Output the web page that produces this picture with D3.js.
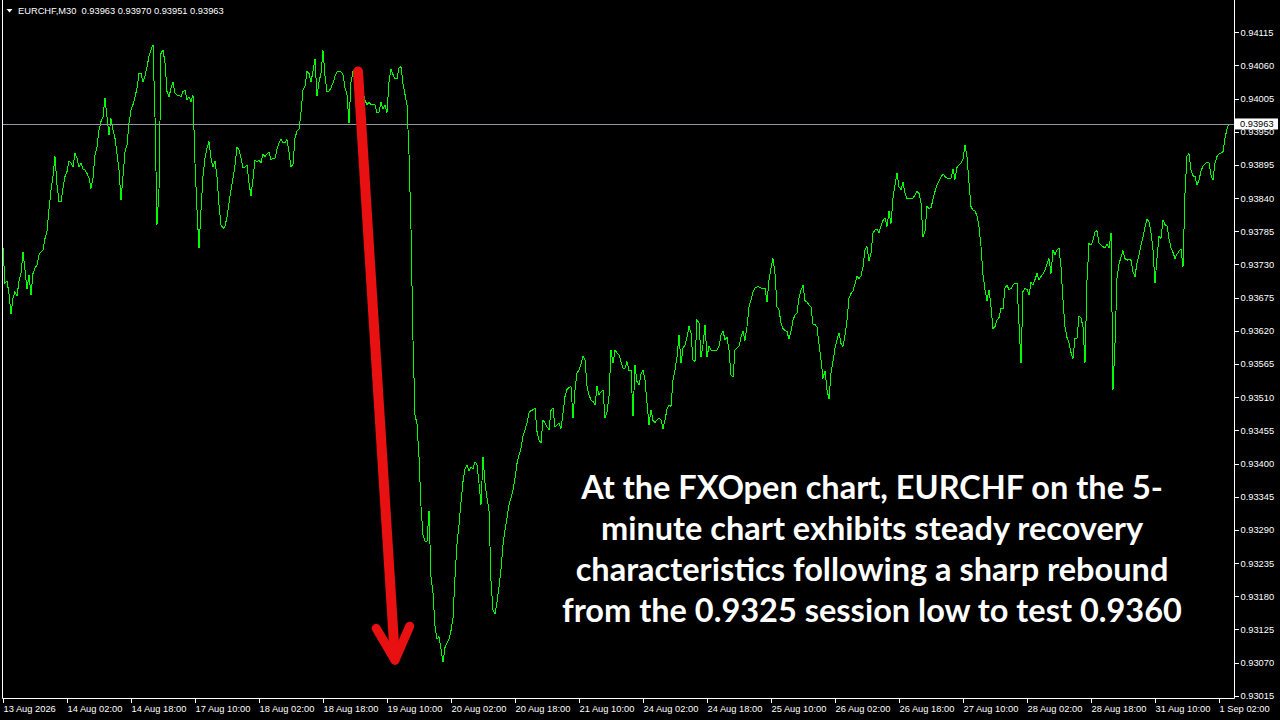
<!DOCTYPE html>
<html><head><meta charset="utf-8">
<script src="https://cdn.jsdelivr.net/npm/d3@7"></script>
<style>
html,body{margin:0;padding:0;background:#000;overflow:hidden}
svg{display:block}
</style></head>
<body>
<svg id="chart" width="1280" height="720"></svg>
<script>
// ---------------- data ----------------
const symbol = "EURCHF,M30";
const headerOHLC = [0.93963, 0.93970, 0.93951, 0.93963];
const lastPrice = 0.93963;
const priceTicks = [0.93015, 0.93070, 0.93125, 0.93180, 0.93235, 0.93290, 0.93345, 0.93400, 0.93455, 0.93510,
  0.93565, 0.93620, 0.93675, 0.93730, 0.93785, 0.93840, 0.93895, 0.93950, 0.94005, 0.94060, 0.94115];
const timeTickBars = [0, 32, 64, 96, 128, 160, 192, 224, 256, 288, 320, 352, 384, 416, 448, 480, 512, 544, 576, 608];
const timeTickLabels = ["13 Aug 2026", "14 Aug 02:00", "14 Aug 18:00", "17 Aug 10:00", "18 Aug 02:00", "18 Aug 18:00",
  "19 Aug 10:00", "20 Aug 02:00", "20 Aug 18:00", "21 Aug 10:00", "24 Aug 02:00", "24 Aug 18:00", "25 Aug 10:00",
  "26 Aug 02:00", "26 Aug 18:00", "27 Aug 10:00", "28 Aug 02:00", "28 Aug 18:00", "31 Aug 10:00", "1 Sep 02:00"];
// M30 closes, one per bar (bar 0 = 13 Aug 10:00)
const closes = [
0.93757,0.93699,0.93702,0.93682,0.93648,0.93674,0.93685,0.93678,0.93702,0.93715,
0.93751,0.93721,0.93689,0.93713,0.93679,0.93715,0.93724,0.93729,0.93746,0.93751,
0.93754,0.93773,0.93785,0.93821,0.93854,0.93876,0.93909,0.93862,0.93834,0.93834,
0.93856,0.93876,0.93884,0.93901,0.93898,0.93892,0.93914,0.93906,0.93892,0.93898,
0.93888,0.93887,0.93881,0.93873,0.93856,0.93873,0.93912,0.93925,0.93953,0.93967,
0.93975,0.94006,0.93975,0.93945,0.93972,0.93953,0.93939,0.93914,0.93887,0.93837,
0.93876,0.93917,0.93928,0.93964,0.93986,0.93995,0.94008,0.94022,0.94047,0.94047,
0.94033,0.94042,0.94058,0.94075,0.94086,0.94094,0.93975,0.93796,0.93854,0.94080,
0.94086,0.94064,0.94017,0.94008,0.94022,0.94033,0.94014,0.94011,0.94011,0.94008,
0.94017,0.94019,0.94003,0.94008,0.94000,0.94011,0.93898,0.93820,0.93757,0.93820,
0.93876,0.93906,0.93923,0.93934,0.93906,0.93892,0.93901,0.93876,0.93829,0.93796,
0.93790,0.93793,0.93809,0.93832,0.93854,0.93873,0.93895,0.93925,0.93920,0.93906,
0.93890,0.93892,0.93895,0.93865,
0.93844,0.93872,0.93903,0.93900,0.93903,0.93899,0.93913,0.93909,0.93913,0.93916,
0.93903,0.93906,0.93906,0.93921,0.93932,0.93937,0.93932,0.93932,0.93937,0.93916,
0.93892,0.93896,0.93940,0.93951,0.93955,0.93982,0.94019,0.94026,0.94050,0.94047,
0.94033,0.94050,0.94071,0.94009,0.94033,0.94047,0.94085,0.94043,0.94016,0.94017,
0.94023,0.94031,0.94042,0.94049,0.94050,0.94049,0.94045,0.94023,0.94012,0.93964,
0.94033,0.94050,0.94054,0.94057,0.94050,0.94036,0.94016,0.94002,0.93995,0.93999,
0.93995,0.93995,0.93995,0.93982,0.93983,0.93999,0.93988,0.93994,0.93982,0.94033,
0.94054,0.94045,0.94038,0.94038,0.94056,0.94058,0.94030,0.94012,0.93995,0.93913,
0.93789,0.93604,0.93480,0.93466,0.93411,0.93329,0.93281,0.93271,0.93271,0.93322,
0.93212,0.93185,0.93130,0.93109,0.93113,0.93092,0.93071,0.93095,0.93102,0.93109,
0.93123,0.93144,0.93212,0.93267,0.93298,0.93336,0.93370,0.93391,0.93398,0.93387,
0.93394,0.93391,0.93403,0.93398,0.93367,0.93332,0.93411,0.93367,0.93343,0.93322,
0.93205,0.93157,0.93150,0.93171,0.93195,
0.93224,0.93265,0.93290,0.93310,0.93331,0.93343,0.93356,0.93376,
0.93400,0.93414,0.93425,0.93445,0.93456,0.93467,0.93484,0.93488,0.93489,0.93492,
0.93453,0.93439,0.93434,0.93472,0.93467,0.93461,0.93456,0.93488,0.93492,0.93461,
0.93464,0.93467,0.93458,0.93483,0.93511,0.93523,0.93526,0.93528,0.93475,0.93522,
0.93550,0.93555,0.93565,0.93578,0.93572,0.93528,0.93514,0.93505,0.93503,0.93497,
0.93528,0.93514,0.93519,0.93522,0.93475,0.93486,0.93511,0.93588,0.93566,0.93588,
0.93583,0.93580,0.93569,0.93558,0.93558,0.93569,0.93554,0.93555,0.93478,0.93563,
0.93536,0.93530,0.93548,0.93555,0.93539,0.93500,0.93464,0.93489,0.93471,0.93468,
0.93472,0.93475,0.93472,0.93458,0.93472,0.93490,0.93497,0.93495,0.93539,0.93555,
0.93577,0.93613,0.93566,0.93591,0.93597,0.93609,0.93628,0.93616,0.93572,0.93569,
0.93638,0.93633,0.93577,0.93597,0.93630,0.93577,0.93594,0.93588,0.93588,0.93588,
0.93588,0.93594,0.93613,0.93620,0.93605,0.93609,0.93588,0.93547,0.93543,0.93588,
0.93591,0.93595,0.93609,0.93619,0.93604,0.93627,0.93660,0.93671,0.93685,0.93691,
0.93693,0.93693,
0.93691,0.93691,0.93691,0.93668,0.93704,0.93724,0.93740,0.93715,0.93660,0.93655,
0.93633,0.93624,0.93620,0.93619,0.93606,0.93619,0.93638,0.93646,0.93650,0.93674,
0.93687,0.93696,0.93670,0.93668,0.93663,0.93660,0.93631,0.93631,0.93626,0.93599,
0.93572,0.93541,0.93554,0.93522,0.93507,0.93550,0.93569,0.93591,0.93605,0.93617,
0.93599,0.93594,0.93613,0.93637,0.93674,0.93682,0.93686,0.93698,0.93710,0.93707,
0.93711,0.93726,0.93754,0.93760,0.93736,0.93749,0.93782,0.93787,0.93788,0.93783,
0.93794,0.93803,0.93807,0.93793,0.93818,0.93798,0.93840,0.93862,0.93881,0.93859,
0.93854,0.93867,0.93848,0.93839,0.93839,0.93839,0.93840,0.93845,0.93851,0.93848,
0.93832,0.93776,0.93785,0.93826,0.93823,0.93824,0.93838,0.93851,0.93862,0.93869,
0.93875,0.93880,0.93876,0.93873,0.93873,0.93873,0.93888,0.93871,0.93891,0.93895,
0.93898,0.93905,0.93928,0.93909,0.93865,0.93826,0.93820,0.93819,0.93810,0.93793,
0.93760,0.93713,0.93688,0.93670,0.93688,0.93660,0.93624,0.93627,0.93638,0.93642,
0.93657,0.93657,0.93691,0.93696,0.93688,
0.93690,0.93696,0.93699,0.93699,0.93632,0.93566,0.93685,0.93690,0.93689,0.93679,
0.93700,0.93696,0.93705,0.93715,0.93704,0.93710,0.93714,0.93720,0.93731,0.93740,
0.93715,0.93754,0.93746,0.93754,0.93757,0.93726,0.93671,0.93627,0.93609,0.93600,
0.93584,0.93574,0.93608,0.93608,0.93644,0.93641,0.93627,0.93566,0.93704,0.93765,
0.93762,0.93770,0.93784,0.93786,0.93766,0.93762,0.93760,0.93757,0.93764,0.93757,
0.93782,0.93522,0.93599,0.93707,0.93731,0.93742,0.93753,0.93740,0.93737,0.93739,
0.93737,0.93718,0.93710,0.93733,0.93746,0.93762,0.93776,0.93792,0.93805,0.93801,
0.93783,0.93754,0.93699,0.93740,0.93777,0.93773,0.93804,0.93796,0.93794,0.93773,
0.93758,0.93750,0.93740,0.93747,0.93752,0.93756,0.93726,0.93848,0.93910,0.93914,
0.93887,0.93877,0.93876,0.93862,0.93870,0.93885,0.93893,0.93897,0.93899,0.93899,
0.93878,0.93870,0.93898,0.93909,0.93913,0.93915,0.93917,0.93939,0.93955,0.93963
];
const noteLines = [
  "At the FXOpen chart, EURCHF on the 5-",
  "minute chart exhibits steady recovery",
  "characteristics following a sharp rebound",
  "from the 0.9325 session low to test 0.9360"
];
// annotation arrow, in chart coordinates (bar index, price)
const arrowStart = {bar: 177.5, price: 0.94050};
const arrowTip = {bar: 196, price: 0.93074};

// ---------------- drawing ----------------
const svg = d3.select("#chart");
const W = 1280, H = 720;
const plotLeft = 2.5, plotRight = 1234.5, plotBottom = 698.5;
const axisFont = "'Liberation Sans', Arial, sans-serif";

svg.append("rect").attr("width", W).attr("height", H).attr("fill", "#000");

const x = d3.scaleLinear().domain([0, 613]).range([3, 1229]);
const y = d3.scaleLinear().domain([0.93015, 0.94115]).range([695.7, 32.3]);

// price line
svg.append("path")
  .datum(closes)
  .attr("fill", "none")
  .attr("stroke", "#00ff00")
  .attr("stroke-width", 1)
  .attr("shape-rendering", "crispEdges")
  .attr("d", d3.line().x((d, i) => x(i)).y(d => y(d)));

// last price line
svg.append("line")
  .attr("x1", plotLeft).attr("x2", plotRight)
  .attr("y1", Math.round(y(lastPrice)) + 0.5).attr("y2", Math.round(y(lastPrice)) + 0.5)
  .attr("stroke", "#8f98a3").attr("stroke-width", 1);

// frame
svg.append("path")
  .attr("d", `M${plotLeft},0V${plotBottom}H${plotRight}V0`)
  .attr("fill", "none").attr("stroke", "#fff").attr("stroke-width", 1);

// right price axis
const yAxis = d3.axisRight(y).tickValues(priceTicks).tickSize(4).tickPadding(2)
  .tickFormat(d3.format(".5f"));
const gy = svg.append("g").attr("transform", `translate(${plotRight},0)`).call(yAxis);
gy.select(".domain").remove();
gy.selectAll(".tick line").attr("stroke", "#fff").attr("shape-rendering", "crispEdges");
gy.selectAll(".tick text").attr("fill", "#fff").attr("font-family", axisFont).attr("font-size", 9.3);

// bottom time axis
const xAxis = d3.axisBottom(x).tickValues(timeTickBars).tickSize(4).tickPadding(3)
  .tickFormat((d, i) => timeTickLabels[i]);
const gx = svg.append("g").attr("transform", `translate(0,${plotBottom})`).call(xAxis);
gx.select(".domain").remove();
gx.selectAll(".tick line").attr("stroke", "#fff").attr("shape-rendering", "crispEdges");
gx.selectAll(".tick text").attr("fill", "#fff").attr("font-family", axisFont).attr("font-size", 9.3)
  .attr("text-anchor", "start").attr("x", 0);

// last price label
const ly = y(lastPrice);
svg.append("rect").attr("x", 1235).attr("y", ly - 5.5).attr("width", 43).attr("height", 11).attr("fill", "#fff");
svg.append("text").attr("x", 1240).attr("y", ly).attr("dy", "0.34em")
  .attr("font-family", axisFont).attr("font-size", 9.3).attr("fill", "#000")
  .text(d3.format(".5f")(lastPrice));

// header
svg.append("path").attr("d", "M6.5,9 L12.5,9 L9.5,12.5 Z").attr("fill", "#fff");
svg.append("text").attr("x", 18).attr("y", 14)
  .attr("font-family", axisFont).attr("font-size", 9.3).attr("fill", "#fff")
  .attr("xml:space", "preserve")
  .text(symbol + "  " + headerOHLC.map(d3.format(".5f")).join(" "));

// red arrow
const ax0 = x(arrowStart.bar), ay0 = y(arrowStart.price);
const ax1 = x(arrowTip.bar), ay1 = y(arrowTip.price);
const ang = Math.atan2(ay1 - ay0, ax1 - ax0);
const red = "#e81010";
const shaftEnd = [ax1 - Math.cos(ang) * 6, ay1 - Math.sin(ang) * 6];
svg.append("line").attr("x1", ax0).attr("y1", ay0).attr("x2", shaftEnd[0]).attr("y2", shaftEnd[1])
  .attr("stroke", red).attr("stroke-width", 10).attr("stroke-linecap", "round");
const headLen = 37, spread = 27 * Math.PI / 180;
[-1, 1].forEach(s => {
  const a = ang + Math.PI + s * spread;
  svg.append("line").attr("x1", ax1).attr("y1", ay1)
    .attr("x2", ax1 + Math.cos(a) * headLen).attr("y2", ay1 + Math.sin(a) * headLen)
    .attr("stroke", red).attr("stroke-width", 9).attr("stroke-linecap", "round");
});

// annotation text
const noteG = svg.append("g");
const texts = noteG.selectAll("text").data(noteLines).join("text")
  .attr("x", 872).attr("y", (d, i) => 499 + i * 41)
  .attr("text-anchor", "middle")
  .attr("font-family", "Lato, 'Open Sans', sans-serif")
  .attr("font-weight", "bold")
  .attr("font-size", 30)
  .attr("fill", "#fff")
  .text(d => d);
// fit widest line to the reference width
const widest = d3.max(texts.nodes(), n => n.getComputedTextLength());
if (widest > 0) texts.attr("font-size", 30 * 620 / widest);
</script>
</body></html>
